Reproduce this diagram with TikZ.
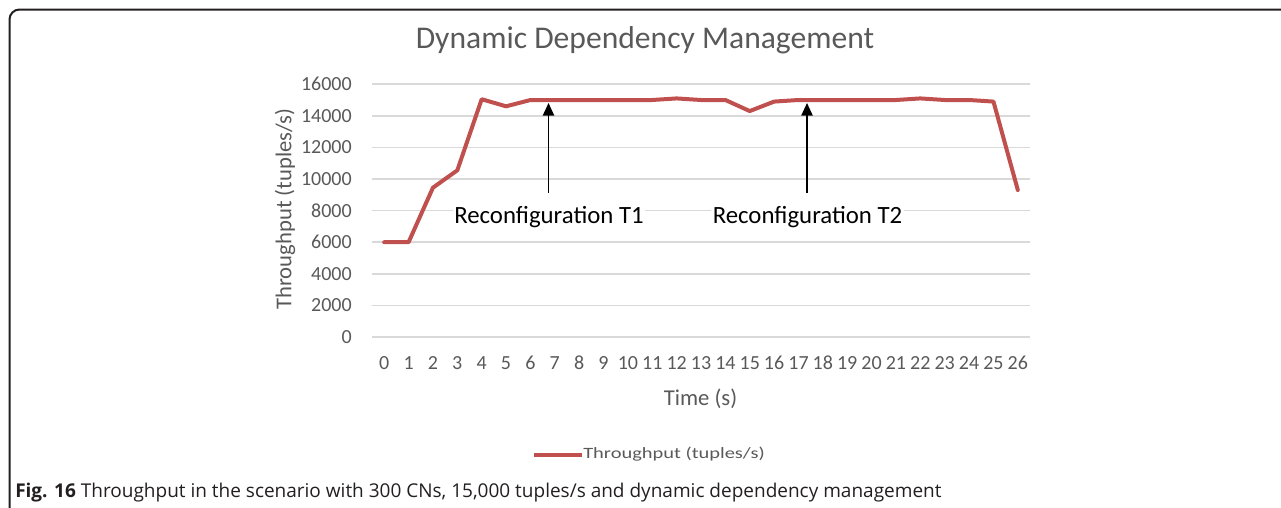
\documentclass[tikz,border=0pt]{standalone}
\usepackage{fontspec}
\setmainfont{Carlito}
\newfontfamily\capfont{Open Sans}
\newfontfamily\legendfont[FakeStretch=1.3]{Carlito}
\usetikzlibrary{arrows.meta}

\definecolor{series}{HTML}{C0504D}
\definecolor{axisgray}{HTML}{595959}
\definecolor{gridgray}{HTML}{D9D9D9}
\definecolor{framecol}{HTML}{231F20}

\begin{document}
\begin{tikzpicture}[x=0.75pt,y=-0.75pt,
  gridline/.style={draw=gridgray, line width=1.1pt},
  ytick/.style={text=axisgray, font=\fontsize{15}{18}\selectfont, inner sep=0pt, anchor=east},
  xtick/.style={text=axisgray, font=\fontsize{15}{18}\selectfont, inner sep=0pt, anchor=base},
  axistitle/.style={text=axisgray, font=\fontsize{17}{20}\selectfont, inner sep=0pt},
  charttitle/.style={text=axisgray, font=\fontsize{23.7}{28}\selectfont, inner sep=0pt, anchor=base},
  note/.style={text=black, font=\fontsize{18.6}{22}\selectfont, fill=white, inner sep=1pt, anchor=base},
  seriesline/.style={draw=series, line width=3pt, line join=round, line cap=round},
  pointer/.style={draw=black, line width=1.1pt, -{Triangle[length=9.5pt,width=8.5pt]}},
]
\useasboundingbox (0,0) rectangle (1281,507);

% outer frame (only the top and left edges lie inside the page)
\draw[framecol, line width=1.5pt, rounded corners=7.5pt]
  (9.5,520) -- (9.5,9.5) -- (1300,9.5);

% chart title
\node[charttitle] (title) at (645,48) {Dynamic Dependency Management};

% horizontal grid and value labels
\foreach \k in {0,...,8} {
  \pgfmathtruncatemacro\lab{2000*\k}
  \coordinate (gl\k) at (372,{337-31.6*\k});
  \coordinate (gr\k) at (1030,{337-31.6*\k});
  \draw[gridline] (gl\k) -- (gr\k);
  \node[ytick] (yl\k) at (352,{337-31.6*\k}) {\lab};
}

% category labels
\foreach \i in {0,...,26} {
  \node[xtick] (xl\i) at ({384.2+24.37*\i},369) {\i};
}

% axis titles
\node[axistitle, rotate=90] (ytitle) at (285,209) {Throughput (tuples/s)};
\node[axistitle, anchor=base] (xtitle) at (700.5,405) {Time (s)};

% data series (x: seconds, y: thousands of tuples/s)
\begin{scope}[shift={(384.2,337)}, x=18.2775pt, y=11.85pt]
  \draw[seriesline] plot coordinates {
    (0,6) (1,6) (2,9.45) (3,10.55) (4,15.05) (5,14.6) (6,15) (7,15)
    (8,15) (9,15) (10,15) (11,15) (12,15.1) (13,15) (14,15) (15,14.3)
    (16,14.9) (17,15) (18,15) (19,15) (20,15) (21,15) (22,15.1) (23,15)
    (24,15) (25,14.9) (26,9.3)};
\end{scope}

% reconfiguration markers
\node[note] (t1) at (549,223) {Reconfiguration T1};
\node[note] (t2) at (807.5,223) {Reconfiguration T2};
\coordinate (t1base) at (548.5,193);
\coordinate (t1tip) at (548.5,103);
\coordinate (t2base) at (807,193);
\coordinate (t2tip) at (807,103);
\draw[pointer] (t1base) -- (t1tip);
\draw[pointer] (t2base) -- (t2tip);

% legend
\coordinate (lgA) at (534,455);
\coordinate (lgB) at (582,455);
\draw[seriesline, line cap=butt] (lgA) -- (lgB);
\node[text=axisgray, font=\legendfont\fontsize{11.8}{14}\selectfont, inner sep=0pt, anchor=base west]
  (legend) at (583,458) {Throughput (tuples/s)};

% figure caption
\node[anchor=base west, inner sep=0pt, text=framecol, font=\capfont\fontsize{14.25}{17}\selectfont]
  (caption) at (15,497) {\textbf{Fig. 16} Throughput in the scenario with 300 CNs, 15,000 tuples/s and dynamic dependency management};
\end{tikzpicture}
\end{document}
